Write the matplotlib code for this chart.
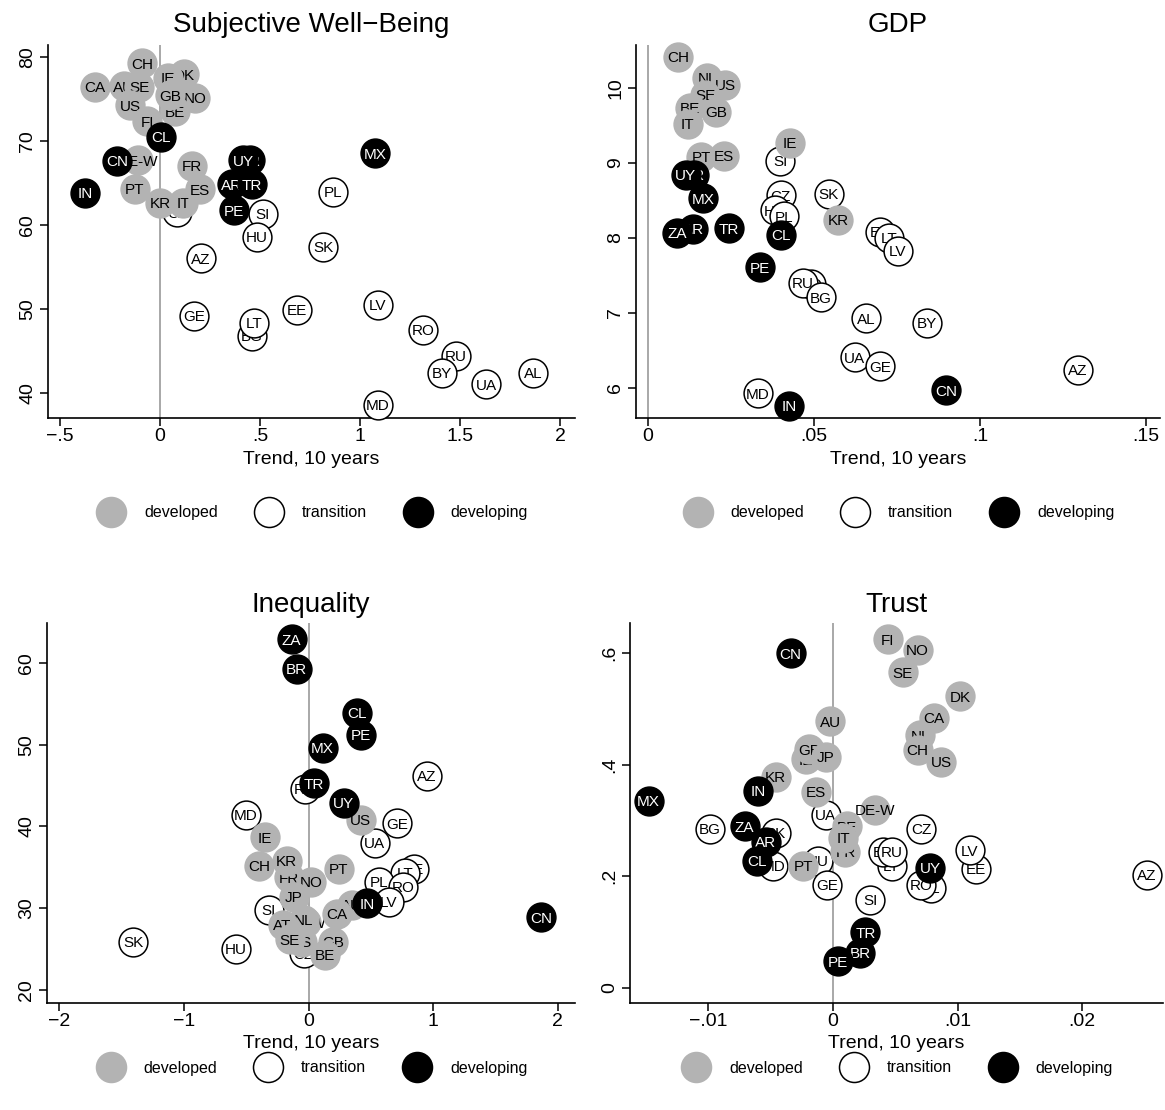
import matplotlib
matplotlib.use("Agg")
import matplotlib.pyplot as plt
from matplotlib.lines import Line2D
from matplotlib.transforms import offset_copy

plt.rcParams['font.family'] = ['Liberation Sans', 'DejaVu Sans']

# group codes: t = transition, d = developed, g = developing (drawn in list order)

# Subjective Well-Being
swb_code = ["CZ", "SI", "HU", "PL", "SK", "AZ", "GE", "BG", "LT", "EE", "LV", "RO", "RU", "BY", "UA", "AL", "MD",
            "CA", "AU", "SE", "CH", "US", "FI", "DK", "NO", "IE", "BE", "GB", "DE-W", "FR", "PT", "IT", "KR", "ES",
            "CL", "CN", "IN", "BR", "UY", "AR", "TR", "PE", "MX"]
swb_x = [0.085, 0.515, 0.485, 0.865, 0.815, 0.205, 0.17, 0.46, 0.47, 0.685, 1.09, 1.315, 1.48, 1.41, 1.63, 1.865, 1.09,
         -0.325, -0.18, -0.105, -0.09, -0.15, -0.065, 0.12, 0.175, 0.04, 0.075, 0.05, -0.11, 0.16, -0.125, 0.115, 0.0, 0.2,
         0.005, -0.215, -0.375, 0.45, 0.415, 0.36, 0.46, 0.37, 1.075]
swb_y = [61.5, 61.3, 58.6, 63.9, 57.4, 56.0, 49.2, 46.8, 48.3, 49.9, 50.5, 47.5, 44.4, 42.4, 41.0, 42.4, 38.6,
         76.4, 76.5, 76.4, 79.2, 74.2, 72.3, 77.9, 75.1, 77.5, 73.5, 75.4, 67.7, 67.0, 64.3, 62.6, 62.6, 64.2,
         70.5, 67.6, 63.8, 67.7, 67.7, 64.8, 64.8, 61.7, 68.5]
swb_group = list("t" * 17 + "d" * 17 + "g" * 9)

# GDP
gdp_code = ["SI", "CZ", "HU", "PL", "SK", "RO", "RU", "BG", "AL", "EE", "LT", "LV", "BY", "UA", "GE", "AZ", "MD",
            "CH", "NL", "US", "SE", "BE", "GB", "IT", "PT", "ES", "IE", "KR",
            "BR", "UY", "MX", "AR", "ZA", "TR", "CL", "PE", "IN", "CN"]
gdp_x = [0.0398, 0.040, 0.0383, 0.041, 0.0545, 0.0491, 0.0467, 0.0521, 0.0657, 0.0699, 0.0726, 0.0753, 0.084, 0.0623,
         0.0699, 0.1295, 0.0331,
         0.009, 0.0178, 0.0232, 0.0172, 0.0127, 0.0205, 0.012, 0.016, 0.0229, 0.0428, 0.0572,
         0.0139, 0.0114, 0.0166, 0.0136, 0.0087, 0.0244, 0.040, 0.0337, 0.0425, 0.0898]
gdp_y = [9.03, 8.57, 8.37, 8.29, 8.59, 7.39, 7.40, 7.21, 6.93, 8.08, 8.00, 7.83, 6.87, 6.41, 6.29, 6.24, 5.93,
         10.41, 10.13, 10.04, 9.91, 9.73, 9.68, 9.52, 9.08, 9.09, 9.27, 8.24,
         8.84, 8.84, 8.53, 8.12, 8.07, 8.13, 8.04, 7.61, 5.76, 5.97]
gdp_group = list("t" * 17 + "d" * 11 + "g" * 10)

# Inequality
ineq_code = ["RU", "AZ", "MD", "GE", "UA", "EE", "LT", "PL", "RO", "LV", "SI", "CZ", "SK", "HU",
             "US", "IE", "CH", "FR", "KR", "NO", "PT", "JP", "DE-W", "NL", "AT", "AU", "CA", "ES", "SE", "GB", "BE",
             "ZA", "BR", "CL", "PE", "MX", "TR", "UY", "IN", "CN"]
ineq_x = [-0.032, 0.948, -0.506, 0.707, 0.53, 0.843, 0.771, 0.562, 0.755, 0.643, -0.321, -0.04, -1.406, -0.586,
          0.418, -0.353, -0.40, -0.16, -0.177, 0.016, 0.241, -0.12, -0.024, -0.04, -0.209, 0.345, 0.225, -0.056,
          -0.153, 0.193, 0.129,
          -0.137, -0.096, 0.386, 0.418, 0.112, 0.04, 0.281, 0.466, 1.863]
ineq_y = [44.6, 46.2, 41.4, 40.4, 38.0, 34.8, 34.3, 33.2, 32.6, 30.8, 29.8, 24.5, 25.9, 25.0,
          40.8, 38.7, 35.2, 33.8, 35.8, 33.2, 34.8, 31.4, 28.3, 28.6, 28.0, 30.4, 29.3, 25.9, 26.2, 25.9, 24.3,
          62.9, 59.3, 53.9, 51.2, 49.6, 45.3, 42.9, 30.6, 28.9]
ineq_group = list("t" * 14 + "d" * 17 + "g" * 9)

# Trust
trust_code = ["UA", "BG", "SK", "MD", "HU", "GE", "SI", "CZ", "LT", "BY", "RU", "AL", "RO", "EE", "LV", "AZ",
              "FI", "NO", "SE", "DK", "AU", "NL", "CA", "CH", "US", "IE", "GB", "JP", "KR", "ES", "DE-W", "FR", "BE",
              "IT", "PT",
              "CN", "IN", "MX", "ZA", "AR", "CL", "UY", "BR", "TR", "PE"]
trust_x = [-0.0006, -0.0099, -0.0046, -0.0048, -0.0012, -0.0005, 0.0030, 0.0071, 0.0047, 0.0040, 0.0047, 0.0079,
           0.0071, 0.0115, 0.0110, 0.0252,
           0.0044, 0.0068, 0.0056, 0.0102, -0.0002, 0.0070, 0.0081, 0.0068, 0.0087, -0.0022, -0.0019, -0.0006,
           -0.0046, -0.0014, 0.0034, 0.0010, 0.0011, 0.0008, -0.0024,
           -0.0034, -0.0060, -0.0148, -0.0071, -0.0054, -0.0061, 0.0078, 0.0022, 0.0026, 0.0004]
trust_y = [0.310, 0.285, 0.278, 0.219, 0.228, 0.185, 0.158, 0.285, 0.219, 0.244, 0.244, 0.179, 0.185, 0.213, 0.247,
           0.203,
           0.625, 0.606, 0.566, 0.523, 0.478, 0.453, 0.484, 0.427, 0.405, 0.410, 0.428, 0.414, 0.378, 0.351, 0.319,
           0.244, 0.290, 0.269, 0.219,
           0.600, 0.353, 0.335, 0.290, 0.262, 0.228, 0.215, 0.063, 0.100, 0.048]
trust_group = list("t" * 16 + "d" * 19 + "g" * 10)

GROUP_NAMES = {"d": "developed", "t": "transition", "g": "developing"}
FILL = {"d": "#b3b3b3", "t": "white", "g": "black"}
EDGE = {"d": "#b3b3b3", "t": "black", "g": "black"}
TXT = {"d": "black", "t": "black", "g": "white"}

W, H = 1165, 1110
fig = plt.figure(figsize=(W / 100, H / 100), dpi=100)


def px_axes(l, t, r, b):
    return fig.add_axes([l / W, 1 - b / H, (r - l) / W, (b - t) / H])


def stata_label(v, pos=None):
    s = f"{round(v, 6):g}"
    if s.startswith("0.") :
        s = s[1:]
    elif s.startswith("-0."):
        s = "-" + s[2:]
    return s.replace("-", "\u2212")


def draw_panel(ax, codes, xs, ys, groups, title, xlim, ylim, xticks, yticks,
               title_dy, xlabel_dy, legend_dy):
    ax.axvline(0, color="#a8a8a8", lw=1.4, zorder=1)
    text_tr = offset_copy(ax.transData, fig=fig, y=-3.9, units="points")
    for i, (c, x, y, g) in enumerate(zip(codes, xs, ys, groups)):
        ax.scatter([x], [y], s=430, c=FILL[g], edgecolors=EDGE[g], linewidths=1.1,
                   zorder=10 + 2 * i, clip_on=False)
        ax.text(x, y, c, transform=text_tr, ha="center", va="baseline", fontsize=11,
                color=TXT[g], zorder=11 + 2 * i)

    ax.set_xlim(xlim)
    ax.set_ylim(ylim)
    ax.set_xticks(xticks)
    ax.set_yticks(yticks)
    ax.set_xticklabels([stata_label(v) for v in xticks])
    ax.set_yticklabels([stata_label(v) for v in yticks], rotation=90, va="center")
    for side in ("top", "right"):
        ax.spines[side].set_visible(False)
    for side in ("left", "bottom"):
        ax.spines[side].set_linewidth(1.2)
    ax.tick_params(axis="both", direction="out", length=5.5, width=1.1, labelsize=14)
    ax.tick_params(axis="x", pad=2)
    ax.tick_params(axis="y", pad=3)

    ax.text(0.5, 1 + title_dy, title, transform=ax.transAxes, ha="center", va="center", fontsize=20)
    ax.text(0.5, -xlabel_dy, "Trend, 10 years", transform=ax.transAxes, ha="center", va="center",
            fontsize=14)

    handles = [Line2D([], [], ls="none", marker="o", ms=21.6, mfc=FILL[g], mec=EDGE[g], mew=1.1,
                      label=GROUP_NAMES[g]) for g in ("d", "t", "g")]
    ax.legend(handles=handles, loc="center", bbox_to_anchor=(0.5, -legend_dy), ncol=3, frameon=False,
              fontsize=11.5, handlelength=2, handletextpad=1.05, columnspacing=2.2, borderaxespad=0)


ax1 = px_axes(48, 45, 575, 418)
ax2 = px_axes(636, 45, 1160, 418)
ax3 = px_axes(47, 623, 575, 1003)
ax4 = px_axes(630, 623, 1163, 1003)

top_h, bot_h = 373, 380
draw_panel(ax1, swb_code, swb_x, swb_y, swb_group, "Subjective Well\u2212Being",
           (-0.56, 2.075), (37.0, 81.4), [-0.5, 0, 0.5, 1, 1.5, 2], [40, 50, 60, 70, 80],
           20 / top_h, 42 / top_h, 95 / top_h)
draw_panel(ax2, gdp_code, gdp_x, gdp_y, gdp_group, "GDP",
           (-0.0036, 0.1542), (5.6, 10.57), [0, 0.05, 0.1, 0.15], [6, 7, 8, 9, 10],
           20 / top_h, 42 / top_h, 95 / top_h)
draw_panel(ax3, ineq_code, ineq_x, ineq_y, ineq_group, "Inequality",
           (-2.10, 2.137), (18.4, 64.9), [-2, -1, 0, 1, 2], [20, 30, 40, 50, 60],
           18 / bot_h, 40 / bot_h, 65 / bot_h)
draw_panel(ax4, trust_code, trust_x, trust_y, trust_group, "Trust",
           (-0.0163, 0.0265), (-0.027, 0.654), [-0.01, 0, 0.01, 0.02], [0, 0.2, 0.4, 0.6],
           18 / bot_h, 40 / bot_h, 65 / bot_h)

fig.savefig("out.png", dpi=100)
